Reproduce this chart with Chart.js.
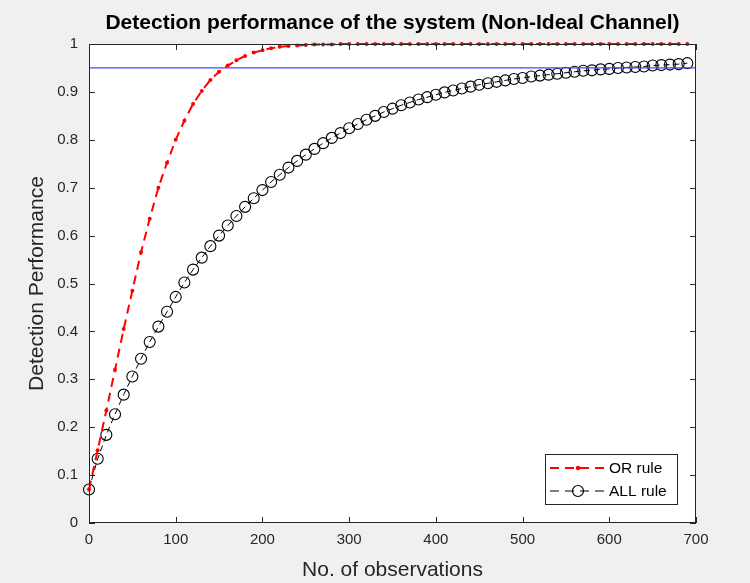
<!DOCTYPE html>
<html>
<head>
<meta charset="utf-8">
<script src="https://cdn.jsdelivr.net/npm/chart.js@4/dist/chart.umd.min.js"></script>
<style>
html,body{margin:0;padding:0;background:#f0f0f0;}
#wrap{width:750px;height:583px;}
</style>
</head>
<body>
<div id="wrap"><canvas id="c" width="750" height="583"></canvas></div>
<script>
const titleText = "Detection performance of the system (Non-Ideal Channel)";
const xTitle = "No. of observations";
const yTitle = "Detection Performance";
const seriesNames = ["OR rule", "ALL rule"];

const observations = [0,10,20,30,40,50,60,70,80,90,100,110,120,130,140,150,160,170,180,190,
  200,210,220,230,240,250,260,270,280,290,300,310,320,330,340,350,360,370,380,390,
  400,410,420,430,440,450,460,470,480,490,500,510,520,530,540,550,560,570,580,590,
  600,610,620,630,640,650,660,670,680,690];

const orRule = [0.070,0.152,0.235,0.320,0.405,0.485,0.565,0.635,0.700,0.752,0.800,0.840,0.875,0.902,0.925,0.942,0.955,0.966,0.975,0.982,
  0.987,0.991,0.994,0.996,0.997,0.998,0.999,0.999,0.999,1.000,1.000,1.000,1.000,1.000,1.000,1.000,1.000,1.000,1.000,1.000,
  1.000,1.000,1.000,1.000,1.000,1.000,1.000,1.000,1.000,1.000,1.000,1.000,1.000,1.000,1.000,1.000,1.000,1.000,1.000,1.000,
  1.000,1.000,1.000,1.000,1.000,1.000,1.000,1.000,1.000,1.000];

const allRule = [0.070,0.134,0.184,0.227,0.268,0.306,0.343,0.378,0.410,0.441,0.472,0.502,0.529,0.554,0.578,0.600,0.621,0.641,0.660,0.678,
  0.695,0.712,0.727,0.742,0.756,0.769,0.781,0.793,0.804,0.814,0.824,0.833,0.842,0.850,0.858,0.865,0.872,0.878,0.884,0.889,
  0.894,0.899,0.903,0.907,0.911,0.915,0.918,0.921,0.924,0.927,0.929,0.932,0.934,0.936,0.938,0.940,0.942,0.944,0.945,0.947,
  0.948,0.950,0.951,0.952,0.953,0.955,0.956,0.957,0.958,0.960];

const thresholdX = [0, 700];
const thresholdY = [0.95, 0.95];

const xTicks = [0,100,200,300,400,500,600,700];
const yTicks = [0,0.1,0.2,0.3,0.4,0.5,0.6,0.7,0.8,0.9,1];

const FONT = "'Liberation Sans', Arial, Helvetica, sans-serif";
const AXIS = "#262626";

function pts(xs, ys){ return xs.map((x,i)=>({x:x, y:ys[i]})); }

const framePlugin = {
  id: 'frame',
  beforeDraw(chart){
    const {ctx, chartArea:a} = chart;
    ctx.save();
    ctx.fillStyle = '#f0f0f0';
    ctx.fillRect(0,0,chart.width,chart.height);
    ctx.fillStyle = '#ffffff';
    ctx.fillRect(a.left, a.top, a.right-a.left, a.bottom-a.top);
    ctx.restore();
  },
  afterDraw(chart){
    const {ctx, chartArea:a, scales} = chart;
    ctx.save();
    ctx.strokeStyle = AXIS;
    ctx.lineWidth = 1;
    ctx.strokeRect(Math.round(a.left)+0.5, Math.round(a.top)+0.5, Math.round(a.right-a.left)-1, Math.round(a.bottom-a.top)-1);
    const tl = 6;
    ctx.beginPath();
    xTicks.forEach(v=>{
      const px = Math.round(scales.x.getPixelForValue(v))+0.5;
      ctx.moveTo(px, a.bottom); ctx.lineTo(px, a.bottom-tl);
      ctx.moveTo(px, a.top); ctx.lineTo(px, a.top+tl);
    });
    yTicks.forEach(v=>{
      const py = Math.round(scales.y.getPixelForValue(v))+0.5;
      ctx.moveTo(a.left, py); ctx.lineTo(a.left+tl, py);
      ctx.moveTo(a.right, py); ctx.lineTo(a.right-tl, py);
    });
    ctx.stroke();

    // title
    ctx.fillStyle = '#000';
    ctx.font = "bold 21px " + FONT;
    ctx.textAlign = 'center';
    ctx.textBaseline = 'middle';
    ctx.fillText(titleText, (a.left+a.right)/2, 23);

    // axis titles
    ctx.fillStyle = AXIS;
    ctx.font = "21px " + FONT;
    ctx.fillText(xTitle, (a.left+a.right)/2, 570);
    ctx.save();
    ctx.translate(37, (a.top+a.bottom)/2);
    ctx.rotate(-Math.PI/2);
    ctx.fillText(yTitle, 0, 0);
    ctx.restore();

    // legend
    const lx = 545, ly = 454, lw = 132, lh = 50;
    ctx.fillStyle = '#fff';
    ctx.fillRect(lx, ly, lw, lh);
    ctx.strokeStyle = AXIS;
    ctx.lineWidth = 1;
    ctx.strokeRect(lx+0.5, ly+0.5, lw, lh);
    // OR entry
    let y1 = ly + 14;
    ctx.strokeStyle = '#ff0000';
    ctx.lineWidth = 2;
    ctx.setLineDash([9,6]);
    ctx.beginPath(); ctx.moveTo(550, y1); ctx.lineTo(607, y1); ctx.stroke();
    ctx.setLineDash([]);
    ctx.fillStyle = '#ff0000';
    ctx.beginPath(); ctx.arc(578, y1, 2.2, 0, Math.PI*2); ctx.fill();
    // ALL entry
    let y2 = ly + 37;
    ctx.strokeStyle = '#000';
    ctx.lineWidth = 1.2;
    ctx.setLineDash([9,6]);
    ctx.beginPath(); ctx.moveTo(550, y2); ctx.lineTo(607, y2); ctx.stroke();
    ctx.setLineDash([]);
    ctx.beginPath(); ctx.arc(578, y2, 5.5, 0, Math.PI*2); ctx.stroke();
    ctx.fillStyle = '#000';
    ctx.font = "15.5px " + FONT;
    ctx.textAlign = 'left';
    ctx.fillText(seriesNames[0], 609, y1+1);
    ctx.fillText(seriesNames[1], 609, y2+1);
    ctx.restore();
  }
};

new Chart(document.getElementById('c'), {
  type: 'line',
  data: {
    datasets: [
      {
        label: seriesNames[0],
        data: pts(observations, orRule),
        borderColor: '#ff0000',
        backgroundColor: '#ff0000',
        borderWidth: 2,
        borderDash: [9,6],
        pointRadius: 2,
        pointBorderWidth: 0,
        pointBackgroundColor: '#ff0000',
        tension: 0,
        order: 2
      },
      {
        label: seriesNames[1],
        data: pts(observations, allRule),
        borderColor: '#000000',
        backgroundColor: 'rgba(0,0,0,0)',
        borderWidth: 1,
        borderDash: [6,4],
        pointRadius: 5.5,
        pointBorderWidth: 1.1,
        pointBorderColor: '#000',
        pointBackgroundColor: 'rgba(0,0,0,0)',
        tension: 0,
        order: 3
      },
      {
        label: 'threshold',
        data: pts(thresholdX, thresholdY),
        borderColor: '#3b4bff',
        borderWidth: 1.3,
        pointRadius: 0,
        tension: 0,
        order: 1
      }
    ]
  },
  options: {
    responsive: false,
    animation: false,
    clip: false,
    layout: { padding: { top: 44, right: 54, left: 0, bottom: 0 } },
    plugins: { legend: { display: false }, title: { display: false }, tooltip: { enabled: false } },
    scales: {
      x: {
        type: 'linear', min: 0, max: 700,
        afterFit(s){ s.height = 60; },
        afterBuildTicks(s){ s.ticks = xTicks.map(v=>({value:v})); },
        grid: { display: false, drawTicks: false },
        border: { display: false },
        ticks: { color: AXIS, font: { family: FONT, size: 15 }, padding: 8, maxRotation: 0 }
      },
      y: {
        type: 'linear', min: 0, max: 1,
        afterFit(s){ s.width = 89; },
        afterBuildTicks(s){ s.ticks = yTicks.map(v=>({value:v})); },
        grid: { display: false, drawTicks: false },
        border: { display: false },
        ticks: { color: AXIS, font: { family: FONT, size: 15 }, padding: 11,
          callback: v => String(Math.round(v*10)/10) }
      }
    }
  },
  plugins: [framePlugin]
});
</script>
</body>
</html>
